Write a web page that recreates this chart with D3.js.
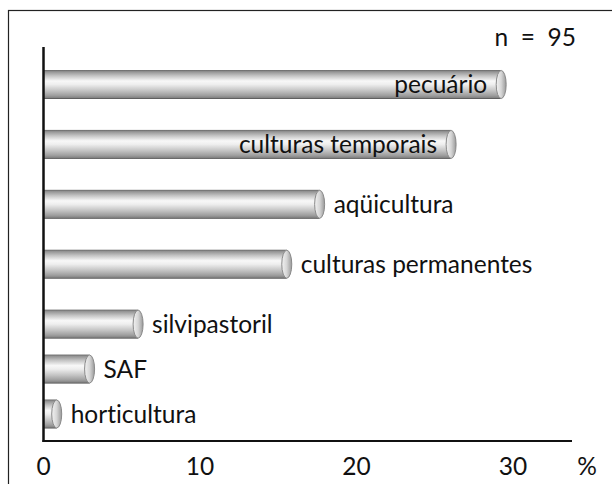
<!DOCTYPE html>
<html>
<head>
<meta charset="utf-8">
<script src="https://cdn.jsdelivr.net/npm/d3@7"></script>
<style>
  html, body { margin: 0; padding: 0; background: #fff; }
  svg { display: block; }
  text { font-family: Lato, "Open Sans", sans-serif; fill: #111; font-variant-ligatures: none; font-feature-settings: "liga" 0, "clig" 0; }
</style>
</head>
<body>
<svg id="chart" width="612" height="484"></svg>
<script>
// ---- data ----
const categories = ["pecuário", "culturas temporais", "aqüicultura", "culturas permanentes", "silvipastoril", "SAF", "horticultura"];
const values = [29.5, 26.3, 17.9, 15.8, 6.3, 3.2, 1.1];
const labelInside = [true, true, false, false, false, false, false];
const rowSlots = [0, 1, 2, 3, 4, 4.75, 5.5];
const xTicks = [0, 10, 20, 30];
const sampleNote = "n = 95";
const unitLabel = "%";

const svg = d3.select("#chart");
const W = 612, H = 484;
const FS = 24.5;

// frame
svg.append("rect")
  .attr("x", 8.5).attr("y", 10.5)
  .attr("width", W).attr("height", H)
  .attr("fill", "none").attr("stroke", "#222").attr("stroke-width", 1.2);

const x = d3.scaleLinear().domain([0, 30]).range([43.5, 513]);
const y = d3.scaleLinear().domain([0, 5.5]).range([84.5, 414]);
const barH = 29, capRx = 5;

const defs = svg.append("defs");
const vg = defs.append("linearGradient").attr("id", "cyl")
  .attr("x1", 0).attr("y1", 0).attr("x2", 0).attr("y2", 1);
[[0, "#666"], [0.06, "#949494"], [0.2, "#c4c4c4"], [0.38, "#f8f8f8"], [0.5, "#eeeeee"],
 [0.72, "#c2c2c2"], [0.88, "#9e9e9e"], [0.95, "#868686"], [1, "#4c4c4c"]]
  .forEach(([o, c]) => vg.append("stop").attr("offset", o).attr("stop-color", c));
const cg = defs.append("linearGradient").attr("id", "cap")
  .attr("x1", 0).attr("y1", 0).attr("x2", 1).attr("y2", 0);
[[0, "#f2f2f2"], [0.5, "#d6d6d6"], [1, "#999"]]
  .forEach(([o, c]) => cg.append("stop").attr("offset", o).attr("stop-color", c));

const data = categories.map((c, i) => ({ c, v: values[i], s: rowSlots[i], inside: labelInside[i] }));

const g = svg.append("g");
const bars = g.selectAll("g.bar").data(data).join("g").attr("class", "bar");
bars.append("rect")
  .attr("x", x(0))
  .attr("y", d => y(d.s) - barH / 2)
  .attr("width", d => Math.max(0, x(d.v) - capRx - x(0) + 1))
  .attr("height", barH)
  .attr("fill", "url(#cyl)");
bars.append("ellipse")
  .attr("cx", d => x(d.v) - capRx + 1)
  .attr("cy", d => y(d.s))
  .attr("rx", capRx).attr("ry", barH / 2 - 0.5)
  .attr("fill", "url(#cap)")
  .attr("stroke", "#8a8a8a").attr("stroke-width", 1);

bars.append("text")
  .attr("x", d => d.inside ? x(d.v) - 18 : x(d.v) + 10)
  .attr("y", d => y(d.s))
  .attr("dy", "0.35em")
  .attr("text-anchor", d => d.inside ? "end" : "start")
  .attr("font-size", FS)
  .text(d => d.c);

// axes
svg.append("line")
  .attr("x1", x(0)).attr("x2", x(0))
  .attr("y1", 47).attr("y2", 442)
  .attr("stroke", "#111").attr("stroke-width", 2.5);
svg.append("line")
  .attr("x1", x(0) - 1).attr("x2", 572)
  .attr("y1", 441).attr("y2", 441)
  .attr("stroke", "#111").attr("stroke-width", 2);

svg.selectAll("text.tick").data(xTicks).join("text")
  .attr("class", "tick")
  .attr("x", d => x(d))
  .attr("y", 466).attr("dy", "0.35em")
  .attr("text-anchor", "middle")
  .attr("font-size", FS)
  .text(d => d);

svg.append("text")
  .attr("x", 587).attr("y", 466).attr("dy", "0.35em")
  .attr("text-anchor", "middle").attr("font-size", FS)
  .text(unitLabel);

svg.append("text")
  .attr("x", 576).attr("y", 37).attr("dy", "0.35em")
  .attr("text-anchor", "end").attr("font-size", FS)
  .attr("xml:space", "preserve")
  .text(sampleNote.replace(" = ", "  =  "));
</script>
</body>
</html>
